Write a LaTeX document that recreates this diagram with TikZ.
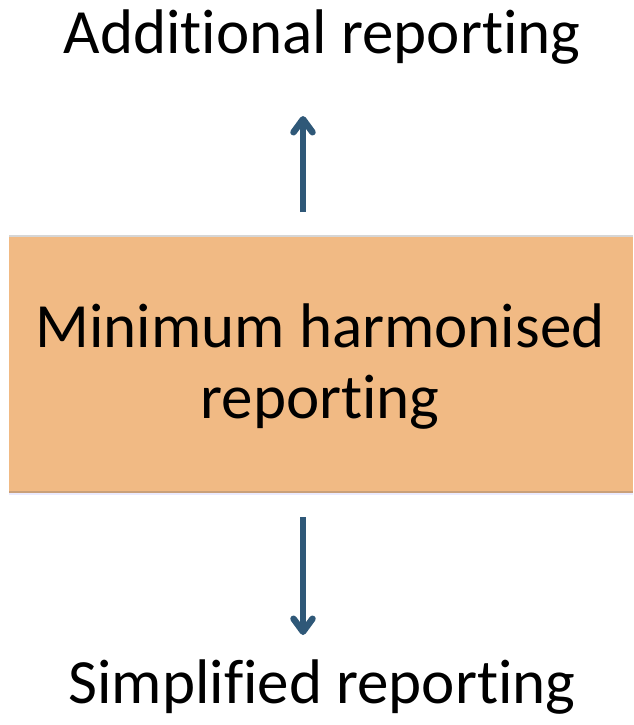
\documentclass[tikz,border=0pt]{standalone}
\usepackage{fontspec}
\setmainfont{Carlito}[Ligatures={NoCommon,NoRequired,NoContextual}]
\usetikzlibrary{arrows.meta}
\definecolor{boxfill}{HTML}{F1BA84}
\definecolor{arrowblue}{HTML}{2F5878}
\definecolor{edgegray}{HTML}{D6D6D6}
\definecolor{edgedark}{HTML}{C9A07A}
% a zero kern keeps letter pairs such as "ti" and "fi" apart
\newcommand{\nolig}{\kern0pt }
\tikzset{
  label text/.style={inner sep=0pt, anchor=base, font=\fontsize{63}{71}\selectfont},
  flow arrow/.style={draw=arrowblue, line width=6pt,
    -{Straight Barb[length=13pt, width=19pt, line width=6.5pt, round]}}
}
\begin{document}
\begin{tikzpicture}[x=1pt, y=-1pt]
  \useasboundingbox (0,0) rectangle (633,725);
  % central box with a faint edge line above and below
  \fill[edgegray] (9,235) rectangle (633,238);
  \node[fill=boxfill, minimum width=624pt, minimum height=255pt, inner sep=0pt,
        anchor=north west] (box) at (9,237) {};
  \fill[edgedark] (9,491) rectangle (633,493);
  \fill[blue!8] (9,493) rectangle (633,495);
  % texts
  \node[label text] (top) at (322,53) {Addit\nolig ional report\nolig ing};
  \node[label text] (mid1) at (320,347) {Minimum harmonised};
  \node[label text] (mid2) at (320,418) {report\nolig ing};
  \node[label text] (bot) at (322,703) {Simplif\nolig ied report\nolig ing};
  % arrows
  \coordinate (upstart) at (303,212);
  \coordinate (upend) at (303,116);
  \coordinate (downstart) at (303,517);
  \coordinate (downend) at (303,635);
  \draw[flow arrow] (upstart) -- (upend);
  \draw[flow arrow] (downstart) -- (downend);
\end{tikzpicture}
\end{document}
